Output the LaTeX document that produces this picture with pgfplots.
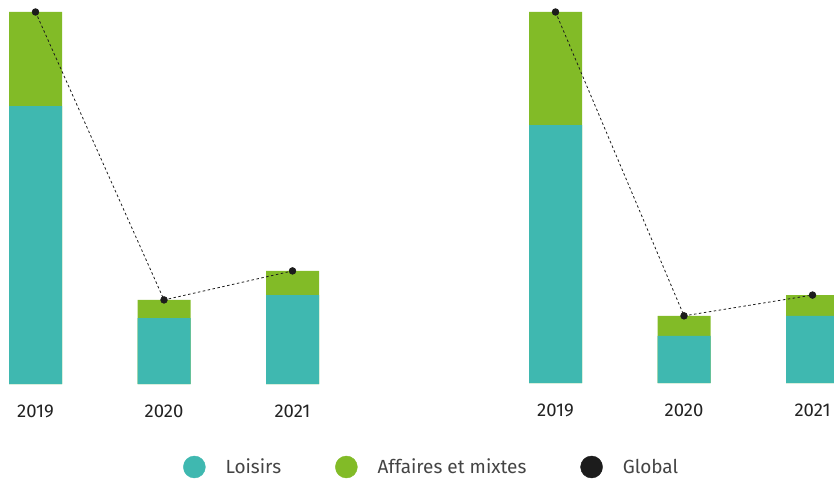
\documentclass[border=0pt]{standalone}
\usepackage{pgfplots}
\pgfplotsset{compat=1.18}
\usepackage{fontspec}
\setmainfont{Fira Sans}
\definecolor{loisirs}{HTML}{3FB8B0}
\definecolor{affaires}{HTML}{82BB27}
\definecolor{globalc}{HTML}{1C1C1C}
\definecolor{txt}{HTML}{222222}
\definecolor{legtxt}{HTML}{444444}

% left panel: totals (global) and leisure part
\pgfplotstableread{
x loisirs total
0 74.7 100
1 17.7 22.6
2 23.9 30.4
}\leftdata
% right panel
\pgfplotstableread{
x loisirs total
0 69.5 100
1 12.7 18.1
2 18.1 23.7
}\rightdata

\pgfplotsset{
  panel/.style={
    scale only axis,
    anchor=south west,
    xmin=-0.2763, xmax=2.4,
    ymin=0, ymax=100,
    width=343.9pt,
    clip=false,
    axis line style={draw=none},
    major tick length=0pt,
    ytick=\empty,
    xtick={0,1,2},
    xticklabels={2019,2020,2021},
    xticklabel style={anchor=base, yshift=-33pt, font=\fontsize{18.5}{22}\selectfont, text=txt},
  },
  barstyle/.style={ybar, bar width=53pt, bar shift=0pt, draw=none, fill=#1, forget plot},
  globalline/.style={draw=globalc, line width=0.8pt, dash pattern=on 2.5pt off 2.5pt,
    mark=*, mark size=3.3pt, mark options={solid, fill=globalc, draw=globalc}, forget plot},
}

\begin{document}
\begin{tikzpicture}
\useasboundingbox (0pt,0pt) rectangle (834pt,479pt);

\begin{axis}[panel, at={(0pt,95pt)}, height=372pt,
  legend columns=-1,
  legend style={at={(axis description cs:0.532,-0.2231)}, anchor=west, draw=none,
    inner sep=0pt, fill=none,
    nodes={inner sep=0pt, font=\fontsize{19}{23}\selectfont, text=legtxt},
    /tikz/every odd column/.append style={column sep=20pt},
    /tikz/every even column/.append style={column sep=54pt}},
]
\addplot[barstyle=affaires] table[x=x, y=total] {\leftdata};
\addplot[barstyle=loisirs] table[x=x, y=loisirs] {\leftdata};
\addplot[globalline] table[x=x, y=total] {\leftdata};
\addlegendimage{legend image code/.code={\fill[loisirs] (11pt,0pt) circle (11pt);}}
\addlegendentry{Loisirs}
\addlegendimage{legend image code/.code={\fill[affaires] (11pt,0pt) circle (11pt);}}
\addlegendentry{Affaires et mixtes}
\addlegendimage{legend image code/.code={\fill[globalc] (11pt,0pt) circle (11pt);}}
\addlegendentry{Global}
\end{axis}

\begin{axis}[panel, at={(520pt,96pt)}, height=371pt]
\addplot[barstyle=affaires] table[x=x, y=total] {\rightdata};
\addplot[barstyle=loisirs] table[x=x, y=loisirs] {\rightdata};
\addplot[globalline] table[x=x, y=total] {\rightdata};
\end{axis}
\end{tikzpicture}
\end{document}
